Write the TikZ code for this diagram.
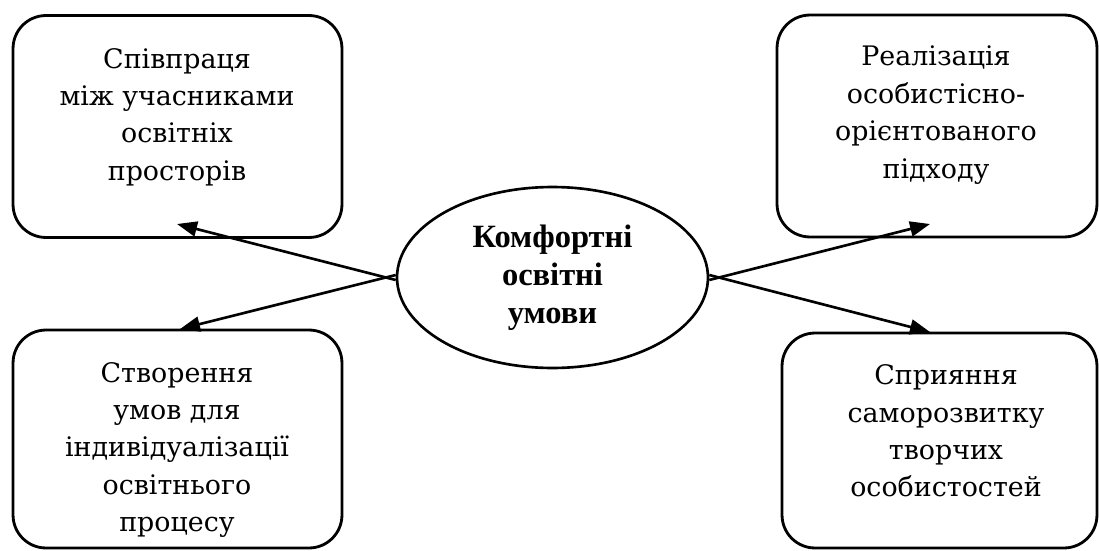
\documentclass[tikz,border=0pt]{standalone}
\usepackage{fontspec}
\setmainfont{DejaVu Serif}
\newfontfamily\ellfont{Liberation Serif}
\usetikzlibrary{arrows.meta}
\usetikzlibrary{shapes.geometric}
\tikzset{blok/.style={draw, line width=1.6pt, rounded corners=0.66cm, inner sep=0pt},
blokt/.style={align=center, inner sep=0pt, font=\fontsize{15.3}{21.3}\selectfont},
umova/.style={draw, ellipse, line width=1.5pt, minimum width=6.22cm, minimum height=3.62cm,
              align=center, inner sep=0pt, font=\ellfont\bfseries\fontsize{18.5}{21.5}\selectfont},
strilka/.style={line width=1.5pt, -{Triangle[length=0.4cm,width=0.3cm]}}}

\begin{document}
\begin{tikzpicture}[x=0.02cm, y=-0.02cm]
			\useasboundingbox (0,0) rectangle (1099,551);
			\node [blok, minimum width=6.58cm, minimum height=4.44cm] (tl) at (177.5, 126.5) {};
			\node [blok, minimum width=6.58cm, minimum height=4.36cm] (bl) at (177.5, 439) {};
			\node [blok, minimum width=6.4cm, minimum height=4.44cm] (tr) at (937, 126) {};
			\node [blok, minimum width=6.3cm, minimum height=4.3cm] (br) at (939.5, 440.5) {};
			\node [blokt] (tltext) at (177, 117) {Співпраця\\між учасниками\\освітніх\\просторів};
			\node [blokt] (bltext) at (177, 450) {Створення\\умов для\\індивідуалізації\\освітнього\\процесу};
			\node [blokt] (trtext) at (936, 115) {Реалізація\\особистісно-\\орієнтованого\\підходу};
			\node [blokt] (brtext) at (946, 431) {Сприяння\\саморозвитку\\творчих\\особистостей};
			\node [umova] (e) at (552.5, 277.5) {Комфортні\\освітні\\умови};
			\coordinate (tlpt) at (177, 224);
			\coordinate (blpt) at (180, 329);
			\coordinate (trpt) at (930, 224);
			\coordinate (brpt) at (930, 332);
			\draw [strilka] ([yshift=-0.05cm]e.west) to (tlpt);
			\draw [strilka] ([yshift=0.05cm]e.west) to (blpt);
			\draw [strilka] ([yshift=-0.05cm]e.east) to (trpt);
			\draw [strilka] ([yshift=0.05cm]e.east) to (brpt);
		\end{tikzpicture}
\end{document}
